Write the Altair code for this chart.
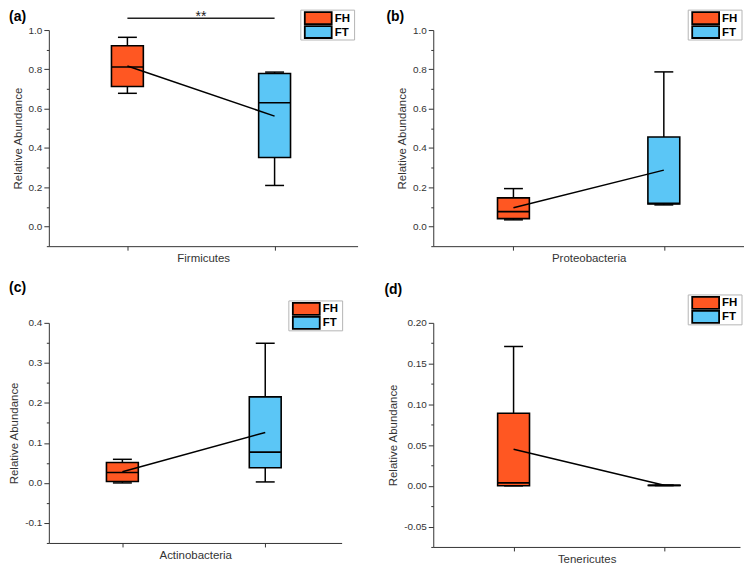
import altair as alt
import pandas as pd

FONT = "Liberation Sans, Arial, sans-serif"

groups = ["FH", "FT"]
group_pos = [1, 2]
group_colors = ["#FF5722", "#5BC6F6"]

phyla = ["Firmicutes", "Proteobacteria", "Actinobacteria", "Tenericutes"]
panel_tags = ["(a)", "(b)", "(c)", "(d)"]

# values per phylum, [FH, FT]
whisker_low = [[0.678, 0.209], [0.034, 0.110], [0.000, 0.0025], [0.000, 0.0003]]
box_q1 = [[0.713, 0.351], [0.040, 0.115], [0.0034, 0.038], [0.000, 0.0004]]
box_median = [[0.812, 0.630], [0.076, 0.118], [0.026, 0.077], [0.0036, 0.0006]]
box_q3 = [[0.920, 0.779], [0.146, 0.456], [0.051, 0.215], [0.089, 0.0008]]
whisker_high = [[0.963, 0.786], [0.193, 0.787], [0.059, 0.349], [0.171, 0.0009]]
group_mean = [[0.817, 0.562], [0.096, 0.287], [0.028, 0.126], [0.045, 0.0006]]

y_domains = [[-0.1, 1.0], [-0.1, 1.0], [-0.15, 0.4], [-0.075, 0.2]]
y_steps = [0.1, 0.1, 0.05, 0.025]
y_formats = [".1f", ".1f", ".1f", ".2f"]

# significance bracket (panel a)
sig_from = [1]
sig_to = [2]
sig_level = [1.06]
sig_text = ["**"]

# layout (pixels)
widths = [310, 312, 294, 308]
heights = [217, 217, 221, 225]
x_domains = [[0.5, 2.53], [0.5, 2.5], [0.52, 2.5], [0.5, 2.47]]
legend_from_right = [57, 56, 53, 52]
legend_top = [-20, -20, -22, -28]
tag_pos = [(-40, -13), (-47, -13), (-40, -35), (-49, -33)]


def legend_layers(left, top):
    one = alt.Data(values=[{"k": 0}])
    box = alt.Chart(one).mark_rect(fill="white", stroke="#b4b4b4", strokeWidth=1).encode(
        x=alt.value(left), x2=alt.value(left + 54),
        y=alt.value(top), y2=alt.value(top + 30))
    out = [box]
    for k, (g, c) in enumerate(zip(groups, group_colors)):
        entry = alt.Data(values=[{"group": g}])
        y0 = top + 2 + 14 * k
        sw = alt.Chart(entry).mark_rect(fill=c, stroke="black", strokeWidth=1.8).encode(
            x=alt.value(left + 4), x2=alt.value(left + 31),
            y=alt.value(y0), y2=alt.value(y0 + 12))
        tx = alt.Chart(entry).mark_text(
            align="left", baseline="middle", font=FONT, fontSize=11.5,
            fontWeight="bold", color="black",
        ).encode(x=alt.value(left + 34), y=alt.value(y0 + 6.5), text="group:N")
        out += [sw, tx]
    return out


def panel(i):
    w, h = widths[i], heights[i]
    df = pd.DataFrame({
        "pos": group_pos,
        "group": groups,
        "low": whisker_low[i],
        "q1": box_q1[i],
        "median": box_median[i],
        "q3": box_q3[i],
        "high": whisker_high[i],
        "mean": group_mean[i],
    })
    lo, hi = y_domains[i]
    step = y_steps[i]
    n = int(round((hi - lo) / step))
    tick_vals = [round(lo + k * step, 4) for k in range(n + 1)]
    major = f"(abs(round(datum.value / {step})) % 2) == 0"
    fmt = y_formats[i]

    x_axis = alt.Axis(values=group_pos, labels=False, tickSize=4, grid=False,
                      title=phyla[i], titlePadding=2)
    x_scale = alt.Scale(domain=x_domains[i], nice=False, zero=False)
    y_axis = alt.Axis(
        values=tick_vals,
        tickSize={"condition": {"test": major, "value": 5}, "value": 2.5},
        labelExpr=f"{major} ? replace(format(datum.value, '{fmt}'), '\u2212', '-') : ''",
        grid=False,
        title="Relative Abundance",
        titlePadding=5,
    )
    y_scale = alt.Scale(domain=y_domains[i], nice=False, zero=False)

    def X(field="pos"):
        return alt.X(f"{field}:Q", scale=x_scale, axis=x_axis)

    def Y(field):
        return alt.Y(f"{field}:Q", scale=y_scale, axis=y_axis)

    base = alt.Chart(df)
    whisk_lo = base.mark_rule(color="black", strokeWidth=1.5).encode(
        x=X(), y=Y("low"), y2="q1:Q")
    whisk_hi = base.mark_rule(color="black", strokeWidth=1.5).encode(
        x=X(), y=Y("q3"), y2="high:Q")
    boxes = base.mark_bar(size=32, stroke="black", strokeWidth=1.6, opacity=1).encode(
        x=X(), y=Y("q1"), y2="q3:Q",
        fill=alt.Fill("group:N", scale=alt.Scale(domain=groups, range=group_colors),
                      legend=None),
    )
    medians = base.mark_tick(orient="horizontal", size=32, thickness=1.6,
                             color="black", opacity=1).encode(x=X(), y=Y("median"))
    caps_lo = base.mark_tick(orient="horizontal", size=19, thickness=1.5,
                             color="black", opacity=1).encode(x=X(), y=Y("low"))
    caps_hi = base.mark_tick(orient="horizontal", size=19, thickness=1.5,
                             color="black", opacity=1).encode(x=X(), y=Y("high"))
    mean_line = base.mark_line(color="black", strokeWidth=1.5).encode(
        x=X(), y=Y("mean"))

    tag = alt.Chart(alt.Data(values=[{"tag": panel_tags[i]}])).mark_text(
        align="left", baseline="middle", font=FONT, fontSize=14,
        fontWeight="bold", color="black",
    ).encode(x=alt.value(tag_pos[i][0]), y=alt.value(tag_pos[i][1]), text="tag:N")

    layers = [whisk_lo, whisk_hi, boxes, medians, caps_lo, caps_hi, mean_line, tag]
    layers += legend_layers(w - legend_from_right[i], legend_top[i])

    if i == 0:
        sig_df = pd.DataFrame({"x1": sig_from, "x2": sig_to, "y": sig_level,
                               "label": sig_text})
        sig_rule = alt.Chart(sig_df).mark_rule(color="#222222", strokeWidth=1.5).encode(
            x=X("x1"), x2="x2:Q", y=Y("y"))
        sig_lab = alt.Chart(sig_df).transform_calculate(
            xm="(datum.x1 + datum.x2) / 2", ylab="datum.y - 0.015"
        ).mark_text(
            font=FONT, fontSize=14, color="#222222", baseline="alphabetic"
        ).encode(x=X("xm"), y=Y("ylab"), text="label:N")
        layers += [sig_rule, sig_lab]

    return alt.layer(*layers).properties(width=w, height=h)


chart = alt.concat(
    panel(0), panel(1), panel(2), panel(3),
    columns=2, spacing={"row": 77, "column": 76}, bounds="flush",
).resolve_scale(fill="independent").properties(
    padding=0
).configure_view(stroke=None).configure_axis(
    domainColor="#333333", tickColor="#333333", labelColor="#333333",
    titleColor="#333333", labelFont=FONT, titleFont=FONT, labelFontSize=10,
    titleFontSize=11.5, titleFontWeight="normal", labelPadding=2,
    domainWidth=1, tickWidth=1,
)

chart.save("out.html", embed_options={"renderer": "svg", "actions": False})
